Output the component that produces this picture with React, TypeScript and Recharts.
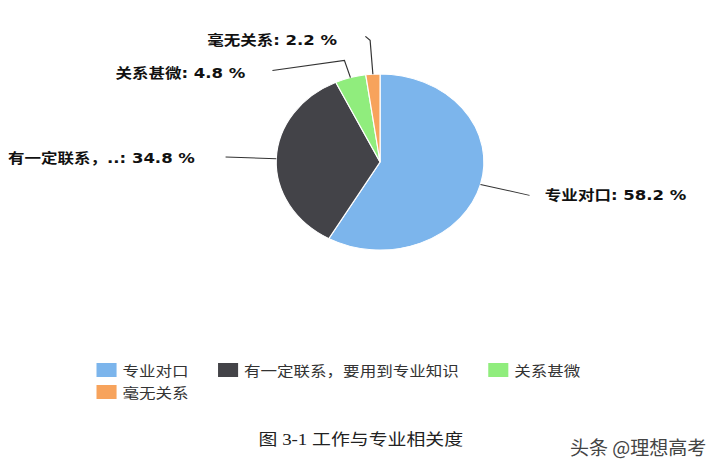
import React from "react";
import { PieChart, Pie, Cell, Legend } from "recharts";

const categories = ["专业对口", "有一定联系，要用到专业知识", "关系甚微", "毫无关系"];
const shares = [58.2, 34.8, 4.8, 2.2];
const colors = ["#7cb5ec", "#434348", "#90ed7d", "#f7a35c"];
const caption = "图 3-1 工作与专业相关度";
const watermark = "头条 @理想高考";

// leader line shape per slice: radial stub, elbow arm, gap to text
const leaders = [
  { radial: 43, armX: 0, armY: 0, gap: 13, dy: 0.5 },
  { radial: 43, armX: 0, armY: 0, gap: 26, dy: 1 },
  { radial: 18, armX: -61, armY: 10, gap: 23, dy: 3 },
  { radial: 34, armX: -4, armY: -4, gap: 24, dy: 4 },
];

const data = categories.map((name, i) => ({ name, value: shares[i] }));

const SCALE_X = 1.18;
const W = 594;
const H = 454;
const sansFont = "'DejaVu Sans', 'Noto Sans CJK SC', sans-serif";

const renderLabel = (props: any) => {
  const { cx, cy, midAngle, outerRadius, index } = props;
  const rad = Math.PI / 180;
  const cos = Math.cos(-midAngle * rad);
  const sin = Math.sin(-midAngle * rad);
  const l = leaders[index];
  const x0 = cx + outerRadius * cos;
  const y0 = cy + outerRadius * sin;
  const x1 = x0 + l.radial * cos;
  const y1 = y0 + l.radial * sin;
  const x2 = x1 + l.armX;
  const y2 = y1 + l.armY;
  const right = x2 >= cx;
  const name = categories[index];
  const short = name.length > 6 ? name.slice(0, 6) + ".." : name;
  return (
    <g key={`label-${index}`}>
      <path
        d={`M${x0},${y0} L${x1},${y1} L${x2},${y2}`}
        fill="none"
        stroke="#333"
        strokeWidth={1}
      />
      <text
        x={right ? x2 + l.gap : x2 - l.gap}
        y={y2 + l.dy}
        textAnchor={right ? "start" : "end"}
        dominantBaseline="central"
        fontFamily={sansFont}
        fontSize={14}
        fontWeight="bold"
        fill="#111"
      >
        {`${short}: ${shares[index].toFixed(1)} %`}
      </text>
    </g>
  );
};

const renderLegend = () => (
  <div style={{ display: "flex", flexWrap: "wrap", width: 430, columnGap: 25 }}>
    {categories.map((name, i) => (
      <div
        key={name}
        style={{ display: "flex", alignItems: "center", height: 22, whiteSpace: "nowrap" }}
      >
        <span
          style={{ display: "inline-block", width: 17, height: 14, background: colors[i], marginRight: 5 }}
        />
        <span style={{ fontFamily: sansFont, fontSize: 14, color: "#333" }}>{name}</span>
      </div>
    ))}
  </div>
);

export default function App() {
  return (
    <div style={{ position: "relative", width: 701, height: H, overflow: "hidden", background: "#fff" }}>
      <div style={{ transform: `scaleX(${SCALE_X})`, transformOrigin: "0 0", width: W, height: H, position: "relative" }}>
        <PieChart width={W} height={H} margin={{ top: 0, right: 0, bottom: 0, left: 0 }}>
          <Pie
            data={data}
            dataKey="value"
            nameKey="name"
            cx={315.3}
            cy={154}
            outerRadius={88}
            startAngle={90}
            endAngle={-270}
            stroke="#fff"
            strokeWidth={1}
            labelLine={false}
            label={renderLabel}
            isAnimationActive={false}
          >
            {data.map((d, i) => (
              <Cell key={d.name} fill={colors[i]} />
            ))}
          </Pie>
          <Legend
            verticalAlign="middle"
            align="center"
            layout="horizontal"
            wrapperStyle={{ top: 351, left: 75, width: 440 }}
            content={renderLegend}
          />
        </PieChart>
        <div
          style={{
            position: "absolute",
            left: 0,
            top: 420,
            width: 598,
            textAlign: "center",
            fontFamily: "'Liberation Serif', 'DejaVu Serif', 'Noto Sans CJK SC', serif",
            fontSize: 16,
            lineHeight: "24px",
            color: "#222",
          }}
        >
          {caption}
        </div>
      </div>
      <div
        style={{
          position: "absolute",
          left: 562,
          top: 428,
          fontFamily: "'Noto Sans CJK SC', sans-serif",
          fontSize: 19,
          lineHeight: "22px",
          color: "#444",
          textShadow: "0 0 2px #fff",
          whiteSpace: "nowrap",
        }}
      >
        {watermark}
      </div>
    </div>
  );
}
